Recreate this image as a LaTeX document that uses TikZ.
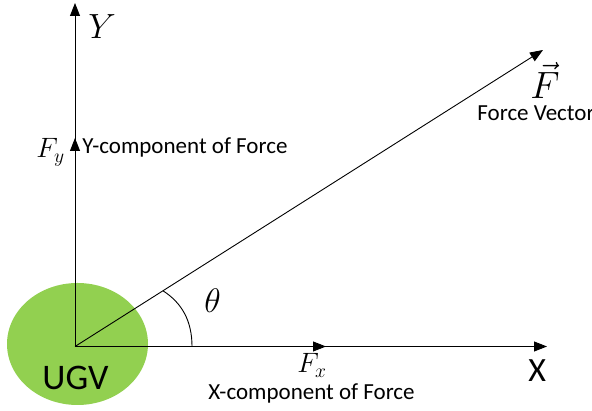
\documentclass[tikz,border=0pt]{standalone}
\usepackage{fix-cm}
\usepackage{fontspec}
\setmainfont{Carlito}
\usetikzlibrary{arrows.meta,shapes.geometric}
\definecolor{UGVGreen}{HTML}{92D050}

\begin{document}
\begin{tikzpicture}[x=1pt,y=1pt,line width=0.9pt,
  vec/.style={-{Triangle[length=13pt,width=10pt]}},
  txt/.style={anchor=base west,inner sep=0pt,font=\fontsize{23}{26}\selectfont},
  sym/.style={anchor=base west,inner sep=0pt,font=\fontsize{#1}{#1}\selectfont}]
\useasboundingbox (0,0) rectangle (592,411);
% robot body
\node[ellipse,fill=UGVGreen,minimum width=141pt,minimum height=122pt,inner sep=0pt] (ugv) at (77.5,67) {};
\node[sym=36] (ugvlbl) at (42,21) {UGV};
% axes and force vectors
\coordinate (O) at (75,64.5);
\coordinate (ytip) at (75,408);
\coordinate (xtip) at (547,64.5);
\coordinate (fxtip) at (326,64.5);
\coordinate (fytip) at (75,273);
\coordinate (ftip) at (543,361);
\draw[vec] (O) -- (ytip);
\draw[vec] (O) -- (xtip);
\draw[vec] (O) -- (fxtip);
\draw[vec] (O) -- (fytip);
\draw[vec] (O) -- (ftip);
% angle
\coordinate (arcA) at (192,64.5);
\coordinate (arcB) at (163,120.2);
\draw (arcA) .. controls (192,90) and (182,108) .. (arcB);
% labels
\node[sym=35] (ylbl) at (88,372) {$Y$};
\node[sym=34] (xlbl) at (528,29) {X};
\node[sym=28] (fylbl) at (36,253) {$F_y$};
\node[txt] (fytxt) at (82,257) {Y-component of Force};
\node[sym=28] (fxlbl) at (297,38) {$F_x$};
\node[txt] (fxtxt) at (208,11) {X-component of Force};
\node[sym=38] (flbl) at (530,312) {$\vec{F}$};
\node[txt] (ftxt) at (477,290) {Force Vector};
\node[sym=34] (thlbl) at (204,98) {$\theta$};
\end{tikzpicture}
\end{document}
